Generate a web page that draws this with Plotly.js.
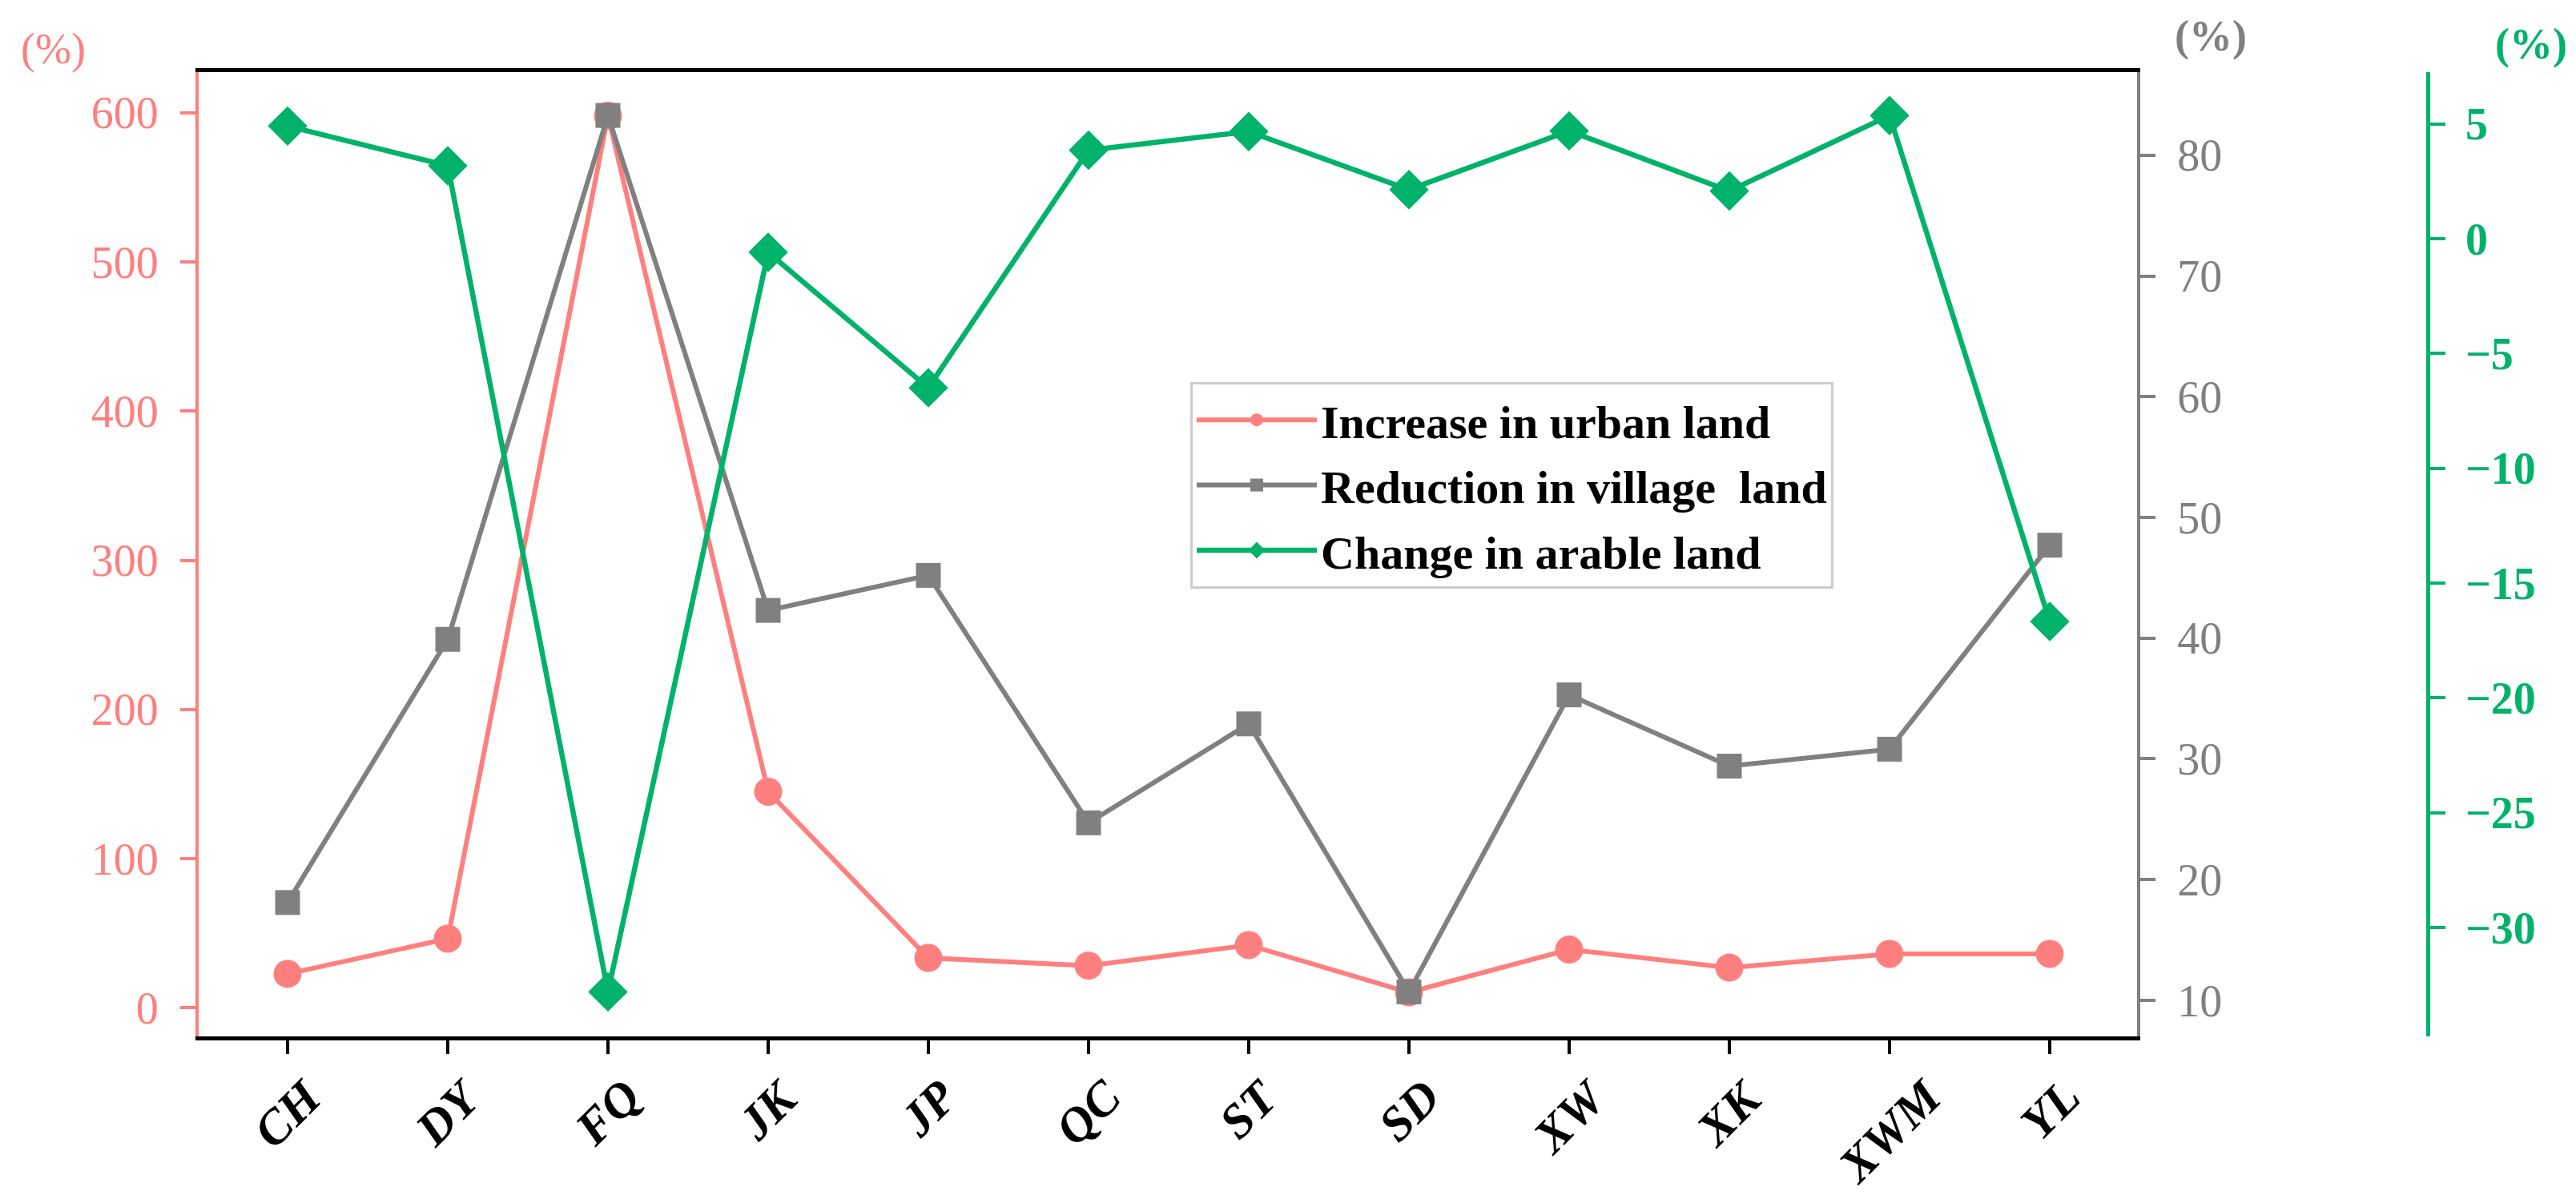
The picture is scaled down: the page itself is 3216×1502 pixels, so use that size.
<!DOCTYPE html>
<html>
<head>
<meta charset="utf-8">
<script src="https://cdn.plot.ly/plotly-3.0.1.min.js"></script>
<style>html,body{margin:0;padding:0;background:#fff;}#chart{width:3216px;height:1502px;}</style>
</head>
<body>
<div id="chart"></div>
<script>
// ---- data ----
const categories = ["CH","DY","FQ","JK","JP","QC","ST","SD","XW","XK","XWM","YL"];
const urbanIncrease = [22.8, 46.4, 598, 144.9, 33.5, 28.3, 42.1, 10.4, 39.1, 27.0, 36.2, 36.2];
const villageReduction = [18.1, 39.9, 83.3, 42.3, 45.2, 24.7, 32.9, 10.7, 35.3, 29.4, 30.8, 47.7];
const arableChange = [4.91, 3.18, -32.8, -0.59, -6.49, 3.86, 4.67, 2.14, 4.70, 2.08, 5.37, -16.67];
const seriesNames = ["Increase in urban land", "Reduction in village\u00a0 land", "Change in arable land"];
const urbanTicks = [0, 100, 200, 300, 400, 500, 600];
const villageTicks = [10, 20, 30, 40, 50, 60, 70, 80];
const arableTicks = [-30, -25, -20, -15, -10, -5, 0, 5];
const unitLabel = "(%)";

const PINK = "#FF7F7F", GRAY = "#808080", GREEN = "#00B26A";
const FONT = "Liberation Serif";

const traces = [
  {x: categories, y: urbanIncrease, name: seriesNames[0], type: "scatter", mode: "lines+markers",
   yaxis: "y", legendgroup: "a",
   line: {color: PINK, width: 6}, marker: {symbol: "circle", size: 35, color: PINK}},
  {x: categories, y: villageReduction, name: seriesNames[1], type: "scatter", mode: "lines+markers",
   yaxis: "y2", legendgroup: "b",
   line: {color: GRAY, width: 6}, marker: {symbol: "square", size: 31, color: GRAY}},
  {x: categories, y: arableChange, name: seriesNames[2], type: "scatter", mode: "lines+markers",
   yaxis: "y3", legendgroup: "c",
   line: {color: GREEN, width: 6.5}, marker: {symbol: "diamond", size: 38, color: GREEN}}
];

const L = 248, T = 90, R = 3031, B = 1294, PR = 2668;
const W = R - L, H = B - T;
const px = v => (v - L) / W;
const py = v => (B - v) / H;

// x tick labels as rotated, centred text under each category tick
const xLabelAnns = categories.map(c => ({
  xref: "x", yref: "paper", x: c, y: py(1332), text: c, showarrow: false,
  textangle: -45, xanchor: "center", yanchor: "top",
  font: {family: FONT, size: 61, color: "#000", weight: "bold", style: "italic"}
}));

const layout = {
  width: 3216, height: 1502,
  margin: {l: L, r: 3216 - R, t: T, b: 1502 - B, pad: 0},
  paper_bgcolor: "#fff", plot_bgcolor: "#fff",
  font: {family: FONT, size: 56, color: "#000"},
  showlegend: true,
  legend: {
    x: px(1486), y: py(477), xanchor: "left", yanchor: "top",
    bgcolor: "rgba(255,255,255,0.9)", bordercolor: "#cccccc", borderwidth: 3,
    font: {family: FONT, size: 58, color: "#000", weight: "bold"},
    tracegroupgap: 3, itemwidth: 150
  },
  xaxis: {
    type: "category", domain: [0, (PR - L) / W], range: [-0.555, 11.545],
    showline: true, linecolor: "#000", linewidth: 5, mirror: true,
    ticks: "outside", ticklen: 17, tickwidth: 4, tickcolor: "#000",
    showticklabels: false, showgrid: false, zeroline: false
  },
  yaxis: {
    range: [-19.1, 627.2], tickvals: urbanTicks,
    showline: true, linecolor: PINK, linewidth: 4,
    ticks: "outside", ticklen: 19, tickwidth: 4, tickcolor: PINK,
    showgrid: false, zeroline: false,
    tickfont: {family: FONT, size: 56, color: PINK},
    ticklabelstandoff: 16
  },
  yaxis2: {
    range: [7.01, 86.89], tickvals: villageTicks,
    overlaying: "y", side: "right", anchor: "x",
    showline: true, linecolor: GRAY, linewidth: 4,
    ticks: "outside", ticklen: 19, tickwidth: 4, tickcolor: GRAY,
    showgrid: false, zeroline: false,
    tickfont: {family: FONT, size: 56, color: GRAY},
    ticklabelstandoff: 16
  },
  yaxis3: {
    range: [-34.74, 7.26], tickvals: arableTicks,
    overlaying: "y", side: "right", anchor: "free", position: 1,
    showline: true, linecolor: GREEN, linewidth: 4.5,
    ticks: "outside", ticklen: 19, tickwidth: 4, tickcolor: GREEN,
    showgrid: false, zeroline: false,
    tickfont: {family: FONT, size: 56, color: GREEN, weight: "bold"},
    ticklabelstandoff: 14
  },
  annotations: [
    {xref: "paper", yref: "paper", x: px(66), y: py(61), text: unitLabel, showarrow: false,
     xanchor: "center", yanchor: "middle", font: {family: FONT, size: 54, color: PINK}},
    {xref: "paper", yref: "paper", x: px(2760), y: py(45), text: unitLabel, showarrow: false,
     xanchor: "center", yanchor: "middle", font: {family: FONT, size: 54, color: GRAY, weight: "bold"}},
    {xref: "paper", yref: "paper", x: px(3160), y: py(55), text: unitLabel, showarrow: false,
     xanchor: "center", yanchor: "middle", font: {family: FONT, size: 54, color: GREEN, weight: "bold"}}
  ].concat(xLabelAnns)
};

Plotly.newPlot("chart", traces, layout, {displayModeBar: false, responsive: false});
</script>
</body>
</html>
